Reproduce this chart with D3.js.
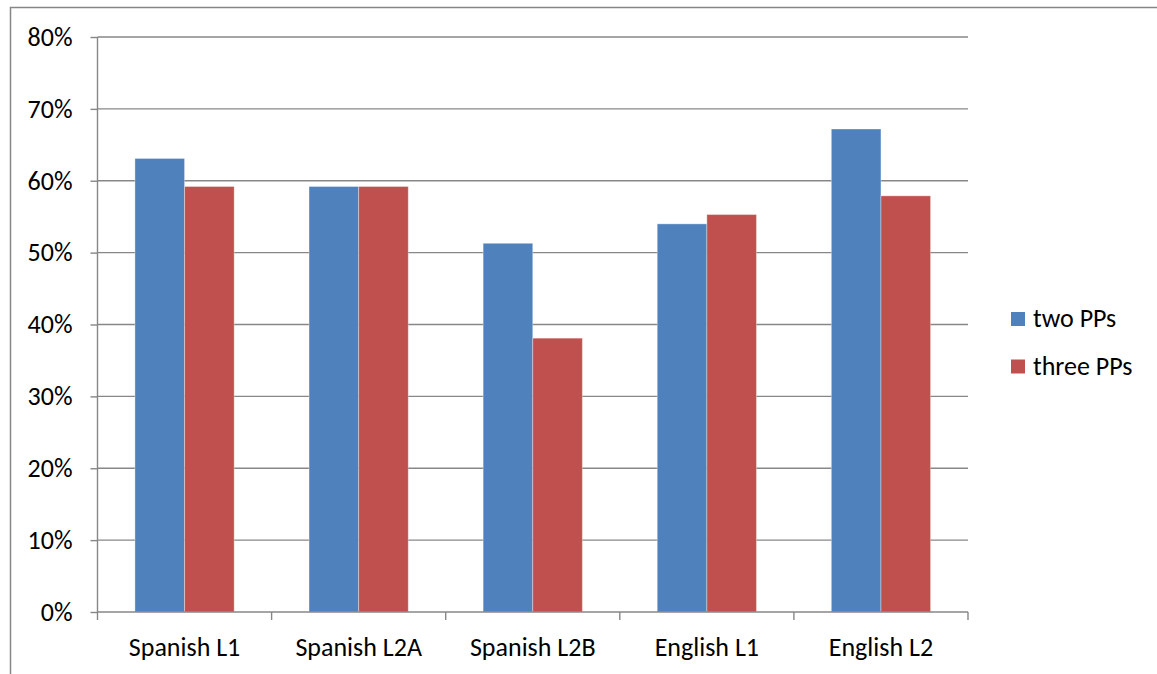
<!DOCTYPE html>
<html>
<head>
<meta charset="utf-8">
<script src="https://cdn.jsdelivr.net/npm/d3@7/dist/d3.min.js"></script>
<style>
  html, body { margin: 0; padding: 0; background: #fff; }
  svg { display: block; }
  text { font-family: Carlito, Lato, "Open Sans", sans-serif; fill: #000; }
</style>
</head>
<body>
<svg id="chart" width="1157" height="674"></svg>
<script>
// Share of responses per speaker group, by number of PPs
const categories = ["Spanish L1", "Spanish L2A", "Spanish L2B", "English L1", "English L2"];
const seriesNames = ["two PPs", "three PPs"];
const twoPPs = [0.631, 0.592, 0.513, 0.540, 0.672];
const threePPs = [0.592, 0.592, 0.381, 0.553, 0.579];
const yTicks = [0, 0.1, 0.2, 0.3, 0.4, 0.5, 0.6, 0.7, 0.8];
const colors = ["#4F81BD", "#C0504D"];

const svg = d3.select("#chart");
const W = 1157, H = 674;
const plot = { left: 97.5, right: 968, top: 37, bottom: 612 };
const fontSize = "26px";

// outer frame
svg.append("path")
  .attr("d", `M10.5,${H + 2} V7.5 H${W + 2}`)
  .attr("fill", "none")
  .attr("stroke", "#868686")
  .attr("stroke-width", 1.5);

const x0 = d3.scaleBand().domain(categories).range([plot.left, plot.right]).paddingInner(0.43).paddingOuter(0.215);
const x1 = d3.scaleBand().domain(seriesNames).range([0, x0.bandwidth()]);
const y = d3.scaleLinear().domain([0, 0.8]).range([plot.bottom, plot.top]);

// horizontal gridlines
svg.append("g")
  .selectAll("line")
  .data(yTicks.slice(1))
  .join("line")
  .attr("x1", plot.left).attr("x2", plot.right)
  .attr("y1", d => y(d)).attr("y2", d => y(d))
  .attr("stroke", "#878787").attr("stroke-width", 1.4);

// bars
const rows = categories.map((c, i) => ({ cat: c, vals: [twoPPs[i], threePPs[i]] }));
svg.append("g")
  .selectAll("g")
  .data(rows)
  .join("g")
  .attr("transform", d => `translate(${x0(d.cat)},0)`)
  .selectAll("rect")
  .data(d => d.vals.map((v, j) => ({ v, s: seriesNames[j], j })))
  .join("rect")
  .attr("x", d => x1(d.s))
  .attr("y", d => y(d.v))
  .attr("width", x1.bandwidth())
  .attr("height", d => y(0) - y(d.v))
  .attr("fill", d => colors[d.j])
  .attr("stroke", "rgba(255,255,255,0.35)")
  .attr("stroke-width", 1);

// y axis
const yAxis = d3.axisLeft(y).tickValues(yTicks).tickFormat(d3.format(".0%")).tickSize(7).tickPadding(18);
const gy = svg.append("g").attr("transform", `translate(${plot.left},0)`).call(yAxis);
gy.select(".domain").attr("stroke", "#878787").attr("stroke-width", 1.4).attr("d", `M0,${plot.top}V${plot.bottom}`);
gy.selectAll(".tick line").attr("stroke", "#878787").attr("stroke-width", 1.4);
gy.selectAll(".tick text").style("font-size", fontSize).attr("fill", "#000");

// x axis with boundary ticks between categories
const gx = svg.append("g").attr("transform", `translate(0,${plot.bottom})`);
gx.append("line")
  .attr("x1", plot.left).attr("x2", plot.right)
  .attr("stroke", "#878787").attr("stroke-width", 1.4);
const step = (plot.right - plot.left) / categories.length;
gx.selectAll("line.tk")
  .data(d3.range(categories.length + 1))
  .join("line")
  .attr("class", "tk")
  .attr("x1", i => plot.left + i * step).attr("x2", i => plot.left + i * step)
  .attr("y1", 0).attr("y2", 8)
  .attr("stroke", "#878787").attr("stroke-width", 1.4);
gx.selectAll("text")
  .data(categories)
  .join("text")
  .attr("x", d => x0(d) + x0.bandwidth() / 2)
  .attr("y", 44)
  .attr("text-anchor", "middle")
  .style("font-size", fontSize)
  .text(d => d);

// legend
const lg = svg.append("g").attr("transform", "translate(1011,312)");
const items = lg.selectAll("g").data(seriesNames).join("g")
  .attr("transform", (d, i) => `translate(0,${i * 47.5})`);
items.append("rect").attr("width", 14).attr("height", 14).attr("fill", (d, i) => colors[i]);
items.append("text").attr("x", 22).attr("y", 15).style("font-size", fontSize).text(d => d);
</script>
</body>
</html>
